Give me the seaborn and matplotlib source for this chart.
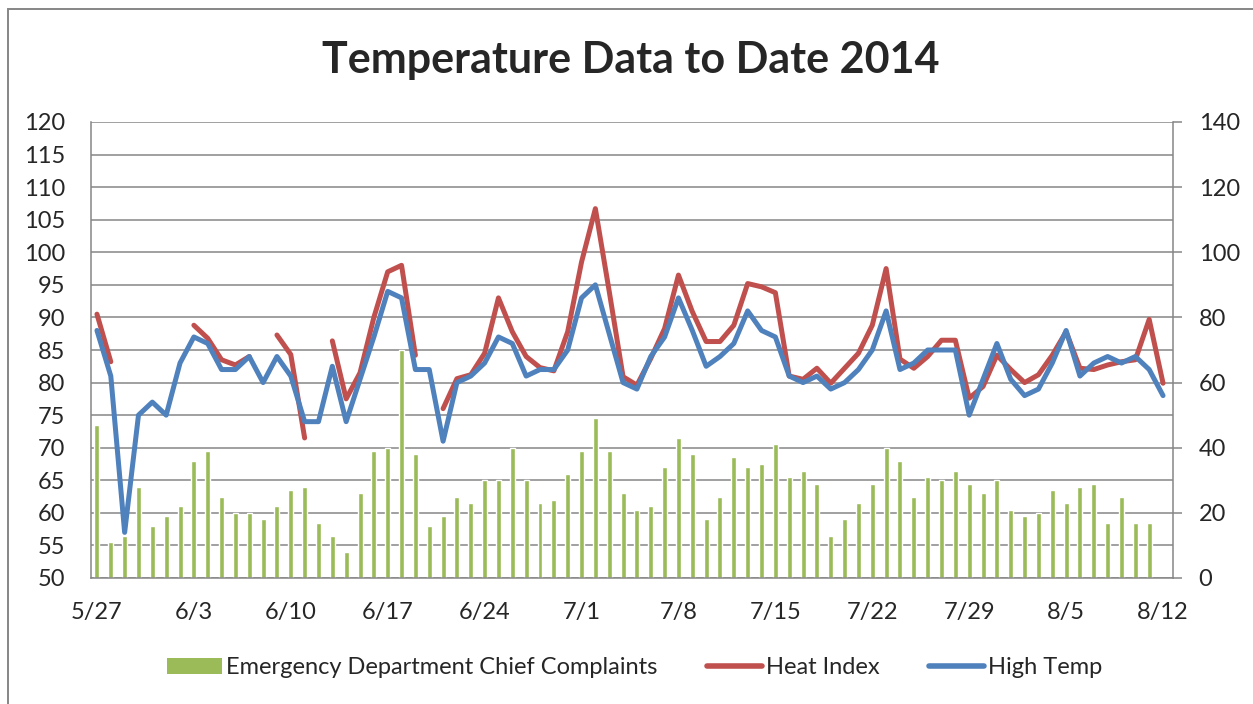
import numpy as np
import pandas as pd
import matplotlib
matplotlib.use("Agg")
import matplotlib.pyplot as plt
from matplotlib.patches import Patch, Rectangle
from matplotlib.lines import Line2D
import seaborn as sns

# daily values 5/27 - 8/12 2014
dates = pd.date_range("2014-05-27", "2014-08-12", freq="D")
date_labels = [f"{d.month}/{d.day}" for d in dates]

high_temp = [88, 81, 57, 75, 77, 75, 83, 87, 86, 82, 82, 84, 80, 84, 81, 74, 74, 82.5, 74, 80.5,
             87, 94, 93, 82, 82, 71, 80, 81, 83, 87, 86, 81, 82, 82, 85, 93, 95, 87.5, 80, 79,
             84, 87, 93, 88, 82.5, 84, 86, 91, 88, 87, 81, 80, 81, 79, 80, 82, 85, 91, 82, 83,
             85, 85, 85, 75, 80.5, 86, 80.5, 78, 79, 83, 88, 81, 83, 84, 83, 84, 82, 78]

heat_index = [90.5, 83.2, None, None, None, None, None, 88.8, 86.8, 83.5, 82.7, 84, None, 87.3,
              84.3, 71.5, None, 86.4, 77.5, 81.5, 90, 97, 98, 84.2, None, 76, 80.6, 81.2, 84.5,
              93, 87.8, 84, 82.3, 81.8, 87.8, 98.5, 106.7, 94, 80.9, 79.6, 83.7, 88.3, 96.5,
              90.9, 86.3, 86.3, 88.8, 95.2, 94.7, 93.8, 81, 80.5, 82.2, 79.9, 82.2, 84.5, 88.8,
              97.5, 83.6, 82.2, 84, 86.5, 86.5, 77.6, 79.4, 84.2, 82, 80, 81.2, 84.2, 87.8,
              82.2, 82, 82.7, 83.2, 83.5, 89.7, 79.9]

complaints = [47, 11, 13, 28, 16, 19, 22, 36, 39, 25, 20, 20, 18, 22, 27, 28, 17, 13, 8, 26,
              39, 40, 70, 38, 16, 19, 25, 23, 30, 30, 40, 30, 23, 24, 32, 39, 49, 39, 26, 21,
              22, 34, 43, 38, 18, 25, 37, 34, 35, 41, 31, 33, 29, 13, 18, 23, 29, 40, 36, 25,
              31, 30, 33, 29, 26, 30, 21, 19, 20, 27, 23, 28, 29, 17, 25, 17, 17, None]

green = "#9BBB59"
red = "#C0504D"
blue = "#4F81BD"
grey = "#868686"

days = np.arange(len(dates))

bars = pd.DataFrame({"day": days, "count": pd.Series(complaints, dtype="float")}).dropna()

frames = []
for name, vals in [("Heat Index", heat_index), ("High Temp", high_temp)]:
    s = pd.Series(vals, dtype="float")
    seg = s.isna().cumsum()
    d = pd.DataFrame({"day": days, "value": s, "series": name,
                      "seg": [f"{name}-{k}" for k in seg]})
    frames.append(d.dropna())
lines = pd.concat(frames, ignore_index=True)

sns.set_style("white")
plt.rcParams["font.family"] = ["Lato", "DejaVu Sans"]
fs = 17

fig = plt.figure(figsize=(12.53, 7.04), dpi=100)
ax = fig.add_axes([91 / 1253, 1 - 578 / 704, (1173 - 91) / 1253, (578 - 122) / 704])

# bars on the right-hand axis
sns.barplot(data=bars, x="day", y="count", native_scale=True, color=green,
            saturation=1, width=0.36, ax=ax)

# lines on the left-hand axis
ax2 = ax.twinx()
sns.lineplot(data=lines, x="day", y="value", hue="series", units="seg", estimator=None,
             palette={"Heat Index": red, "High Temp": blue}, lw=3.6,
             solid_joinstyle="round", legend=False, ax=ax2)

ax.set_ylim(0, 140)
ax.set_yticks(range(0, 141, 20))
ax.set_yticks(range(0, 141, 10), minor=True)
ax.yaxis.tick_right()
ax.grid(True, which="both", axis="y", color=grey, lw=1.1)
ax.set_axisbelow(True)
ax.tick_params(axis="y", which="major", direction="out", length=6.5, width=1.1,
               color=grey, labelsize=fs, pad=12, right=True, left=False,
               labelright=True, labelleft=False)
ax.tick_params(axis="y", which="minor", length=0)
ax.set_xlim(-0.43, 77.72)
ax.set_xticks(days[::7])
ax.set_xticklabels(date_labels[::7])
ax.tick_params(axis="x", length=0, labelsize=fs, pad=17)
ax.set_xlabel("")
ax.set_ylabel("")
for side in ["left", "right", "bottom"]:
    ax.spines[side].set_color(grey)
    ax.spines[side].set_linewidth(1.1)
    ax.spines[side].set_visible(True)
ax.spines["top"].set_visible(False)

ax2.set_ylim(50, 120)
ax2.set_yticks(range(50, 121, 5))
ax2.yaxis.tick_left()
ax2.tick_params(axis="y", length=0, labelsize=fs, pad=18.5, left=True, right=False,
                labelleft=True, labelright=False)
ax2.set_ylabel("")
ax2.set_xlabel("")
for sp in ax2.spines.values():
    sp.set_visible(False)
ax2.set_xlim(-0.43, 77.72)

fig.suptitle("Temperature Data to Date 2014", x=631 / 1253, y=1 - 60 / 704,
             va="center", fontsize=31, fontweight="bold")

handles = [Patch(facecolor=green, edgecolor="none"),
           Line2D([], [], color=red, lw=4, solid_capstyle="round"),
           Line2D([], [], color=blue, lw=4, solid_capstyle="round")]
fig.legend(handles, ["Emergency Department Chief Complaints", "Heat Index", "High Temp"],
           loc="center", bbox_to_anchor=(635 / 1253, 1 - 668 / 704), ncol=3, frameon=False,
           fontsize=fs, handlelength=2.3, handleheight=0.65, handletextpad=0.2,
           columnspacing=2.1)

# outer chart border (left and top edges visible)
fig.patches.append(Rectangle((8 / 1253, -0.2), 1.2, 1.2 - 9 / 704, transform=fig.transFigure,
                             fill=False, edgecolor=grey, lw=1.4))

fig.savefig("out.png", dpi=100)
